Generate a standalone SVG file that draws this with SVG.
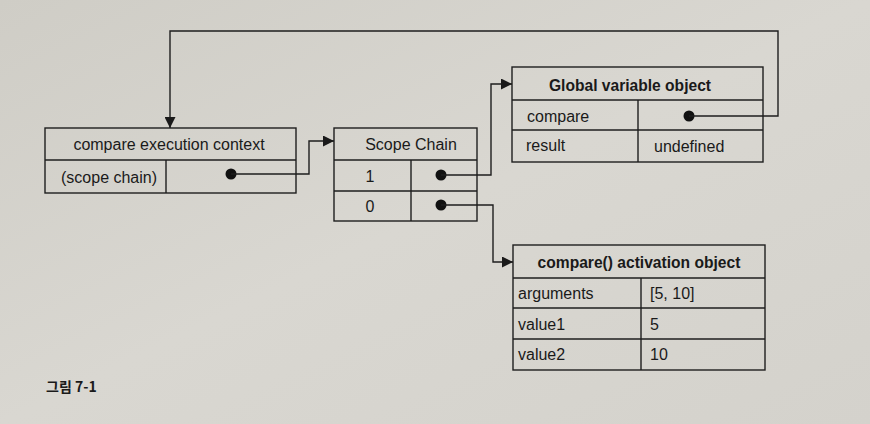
<svg xmlns="http://www.w3.org/2000/svg" width="870" height="424" viewBox="0 0 870 424">
  <defs>
    <linearGradient id="paper" x1="0" y1="0" x2="1" y2="1">
      <stop offset="0" stop-color="#cfcdc6"/>
      <stop offset="0.5" stop-color="#d9d7d1"/>
      <stop offset="1" stop-color="#d4d2cc"/>
    </linearGradient>
    <marker id="arrow" viewBox="0 0 10 10" refX="10" refY="5" markerWidth="11" markerHeight="11" markerUnits="userSpaceOnUse" orient="auto">
      <path d="M0,0 L10,5 L0,10 Z" fill="#1a1a1a"/>
    </marker>
    <style>
      .box { fill: none; stroke: #1e1e1e; stroke-width: 1.4; }
      .line { fill: none; stroke: #1e1e1e; stroke-width: 1.4; }
      .dot { fill: #111; }
      .t { font-family: "Liberation Sans", Arial, sans-serif; font-size: 16px; fill: #1a1a1a; }
      .tc { text-anchor: middle; }
      .b { font-weight: bold; font-size: 15.6px; }
      .cap { font-family: "Noto Sans CJK KR", "Noto Sans", sans-serif; font-size: 14px; font-weight: bold; fill: #1a1a1a; }
    </style>
  </defs>

  <rect width="870" height="424" fill="url(#paper)"/>

  <!-- execution context -->
  <g id="exec-context">
    <rect class="box" x="45" y="128" width="251" height="65"/>
    <line class="box" x1="45" y1="160" x2="296" y2="160"/>
    <line class="box" x1="166" y1="160" x2="166" y2="193"/>
    <text class="t tc" x="169" y="150">compare execution context</text>
    <text class="t" x="61" y="183">(scope chain)</text>
    <circle class="dot" cx="231" cy="174" r="5.5"/>
  </g>

  <!-- scope chain -->
  <g id="scope-chain">
    <rect class="box" x="334" y="128" width="143" height="93"/>
    <line class="box" x1="334" y1="160" x2="477" y2="160"/>
    <line class="box" x1="334" y1="191" x2="477" y2="191"/>
    <line class="box" x1="411" y1="160" x2="411" y2="221"/>
    <text class="t tc" x="411" y="150">Scope Chain</text>
    <text class="t tc" x="370" y="182">1</text>
    <text class="t tc" x="370" y="212">0</text>
    <circle class="dot" cx="441" cy="175" r="5.5"/>
    <circle class="dot" cx="441" cy="205" r="5.5"/>
  </g>

  <!-- global variable object -->
  <g id="global-object">
    <rect class="box" x="512" y="67" width="251" height="95"/>
    <line class="box" x1="512" y1="100" x2="763" y2="100"/>
    <line class="box" x1="512" y1="130" x2="763" y2="130"/>
    <line class="box" x1="638" y1="100" x2="638" y2="162"/>
    <text class="t tc b" x="630" y="91">Global variable object</text>
    <text class="t" x="527" y="122">compare</text>
    <text class="t" x="526" y="151">result</text>
    <text class="t" x="654" y="152">undefined</text>
    <circle class="dot" cx="689" cy="116" r="5.5"/>
  </g>

  <!-- activation object -->
  <g id="activation-object">
    <rect class="box" x="513" y="245" width="252" height="125"/>
    <line class="box" x1="513" y1="278" x2="765" y2="278"/>
    <line class="box" x1="513" y1="308" x2="765" y2="308"/>
    <line class="box" x1="513" y1="339" x2="765" y2="339"/>
    <line class="box" x1="641" y1="278" x2="641" y2="370"/>
    <text class="t tc b" x="639" y="268">compare() activation object</text>
    <text class="t" x="518" y="299">arguments</text>
    <text class="t" x="650" y="299">[5, 10]</text>
    <text class="t" x="518" y="330">value1</text>
    <text class="t" x="650" y="330">5</text>
    <text class="t" x="518" y="360">value2</text>
    <text class="t" x="650" y="360">10</text>
  </g>

  <!-- connectors -->
  <g id="connectors">
    <polyline class="line" points="231,174 309,174 309,141 334,141" marker-end="url(#arrow)"/>
    <polyline class="line" points="441,175 491,175 491,84 512,84" marker-end="url(#arrow)"/>
    <polyline class="line" points="441,205 493,205 493,262 513,262" marker-end="url(#arrow)"/>
    <polyline class="line" points="689,116 778,116 778,31 170,31 170,128" marker-end="url(#arrow)"/>
  </g>

  <text class="cap" x="46" y="392">그림 7-1</text>
</svg>
